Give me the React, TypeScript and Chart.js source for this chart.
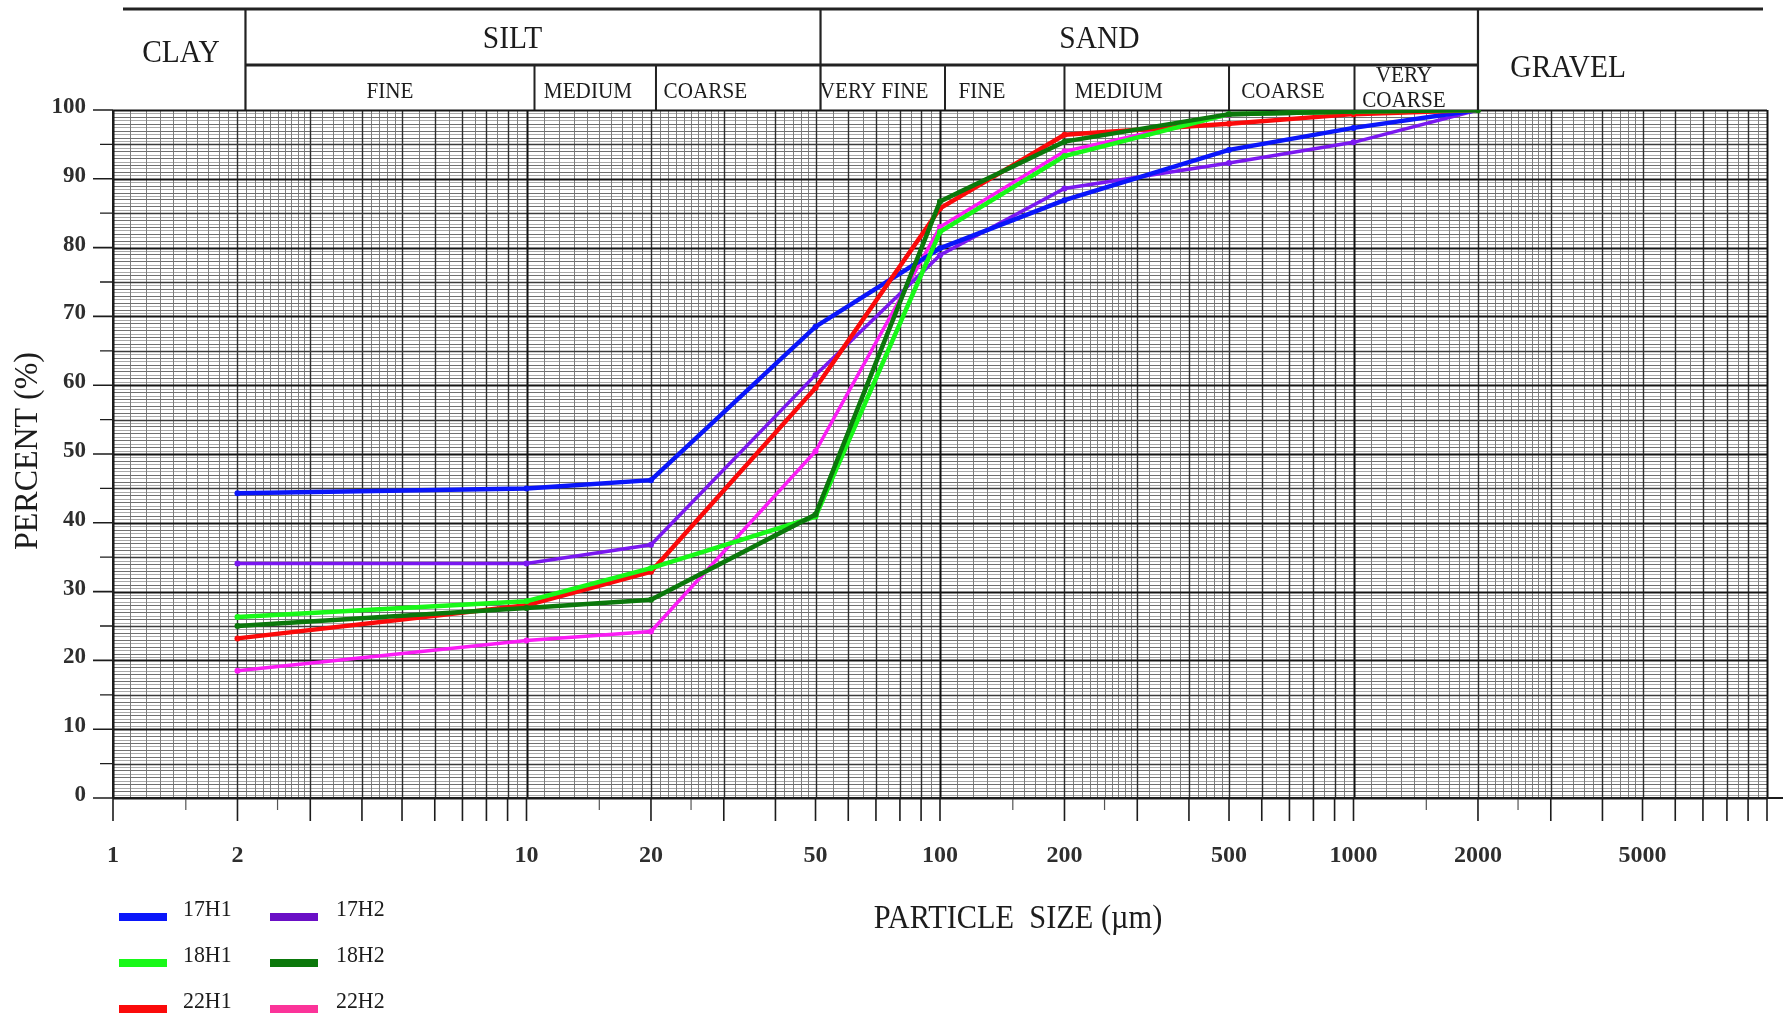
import React, { useEffect, useRef } from 'react';
import { Chart, registerables } from 'chart.js';

Chart.register(...registerables);

// Particle size (µm) at which each cumulative percentage was measured
const particleSizes = [2, 10, 20, 50, 100, 200, 500, 1000, 2000];

const seriesNames = ['17H1', '17H2', '18H1', '18H2', '22H1', '22H2'];

// Cumulative percent finer than each particle size
const values17H1 = [44.3, 45.0, 46.2, 68.5, 79.9, 86.9, 94.2, 97.4, 100];
const values17H2 = [34.1, 34.1, 36.8, 61.5, 78.9, 88.6, 92.3, 95.3, 100];
const values18H1 = [26.3, 28.6, 33.4, 40.9, 82.3, 93.3, 99.4, 99.8, 100];
const values18H2 = [25.0, 27.6, 28.8, 41.2, 86.7, 95.4, 99.4, 99.8, 100];
const values22H1 = [23.2, 28.0, 32.9, 59.6, 85.7, 96.4, 98.0, 99.4, 100];
const values22H2 = [18.5, 22.9, 24.2, 50.4, 83.0, 94.0, 99.3, 99.7, 100];

const seriesValues = [values17H1, values17H2, values18H1, values18H2, values22H1, values22H2];

const xTickValues = [1, 2, 10, 20, 50, 100, 200, 500, 1000, 2000, 5000];
const yTickValues = [0, 10, 20, 30, 40, 50, 60, 70, 80, 90, 100];

// Grain-size classes shown above the plot (boundaries in µm)
const classNames = ['CLAY', 'SILT', 'SAND', 'GRAVEL'];
const subClassNames = ['FINE', 'MEDIUM', 'COARSE', 'VERY FINE', 'FINE', 'MEDIUM', 'COARSE', 'VERY\nCOARSE'];
const subClassBounds = [2, 10, 20, 50, 100, 200, 500, 1000, 2000];

// Styles
const lineColors = ['#0a16fa', '#7a18f0', '#18f818', '#0b780b', '#fb0a0a', '#fb1cf5'];
const swatchColors = ['#0a16fa', '#6a0fc6', '#18f818', '#0b780b', '#fb0a0a', '#fb3399'];
const lineWidths = [4.5, 3.5, 4.5, 4.5, 4.5, 3.5];
const drawOrder = [3, 4, 1, 0, 2, 5];

const FONT = '"Liberation Serif", "Times New Roman", serif';
const INK = '#1c1c1c';

// Small pixel nudges of the printed header rules relative to the grid
const headerNudge: Record<number, number> = { 2: 8, 10: 8, 20: 5, 50: 5, 100: 5, 200: 0, 500: 0, 1000: 1, 2000: 0 };
// Horizontal anchor of each class label (µm) and vertical centre (px)
const classLabelAt = [1.46, 9.25, 243, 3305];
const classLabelY = [54, 39.5, 39.5, 69];
// Horizontal anchor of sub-class labels as a fraction of their cell
const subLabelFrac = [0.5, 0.44, 0.3, 0.43, 0.31, 0.33, 0.43, 0.4];

function drawText(
  ctx: CanvasRenderingContext2D,
  text: string,
  x: number,
  y: number,
  size: number,
  opts: { align?: CanvasTextAlign; weight?: string; scaleX?: number; color?: string; rotate?: number } = {}
) {
  ctx.save();
  ctx.translate(x, y);
  if (opts.rotate) ctx.rotate(opts.rotate);
  ctx.scale(opts.scaleX ?? 1, 1);
  ctx.font = `${opts.weight ?? 'normal'} ${size}px ${FONT}`;
  ctx.textAlign = opts.align ?? 'center';
  ctx.textBaseline = 'middle';
  ctx.fillStyle = opts.color ?? INK;
  ctx.fillText(text, 0, 0);
  ctx.restore();
}

function strokeLines(ctx: CanvasRenderingContext2D, segs: number[][], color: string, width: number) {
  ctx.beginPath();
  for (const [x1, y1, x2, y2] of segs) {
    ctx.moveTo(x1, y1);
    ctx.lineTo(x2, y2);
  }
  ctx.strokeStyle = color;
  ctx.lineWidth = width;
  ctx.stroke();
}

const snap = (v: number) => Math.round(v) + 0.5;

// Semi-log graph paper under the curves
const paperPlugin = {
  id: 'graphPaper',
  beforeDatasetsDraw(chart: any) {
    const { ctx, chartArea: a, scales } = chart;
    const xs = scales.x;
    const ys = scales.y;
    ctx.save();

    const hFine: number[][] = [];
    const hMinor: number[][] = [];
    const hMid: number[][] = [];
    const hMajor: number[][] = [];
    for (let i = 0; i <= 200; i++) {
      const py = snap(ys.getPixelForValue(i / 2));
      const seg = [a.left, py, a.right, py];
      if (i % 20 === 0) hMajor.push(seg);
      else if (i % 10 === 0) hMid.push(seg);
      else if (i % 2 === 0) hMinor.push(seg);
      else hFine.push(seg);
    }

    const vMinor: number[][] = [];
    const vMajor: number[][] = [];
    const vDecade: number[][] = [];
    const decades = [1, 10, 100, 1000];
    for (const d of decades) {
      const minorMantissas: number[] = [];
      for (let i = 11; i < 30; i++) if (i % 10 !== 0) minorMantissas.push(i / 10);
      for (let i = 16; i < 25; i++) if (i % 5 !== 0) minorMantissas.push(i / 5);
      for (let i = 11; i < 20; i += 2) minorMantissas.push(i / 2);
      for (const m of minorMantissas) {
        const px = snap(xs.getPixelForValue(m * d));
        vMinor.push([px, a.top, px, a.bottom]);
      }
      for (let k = 1; k <= 9; k++) {
        const px = snap(xs.getPixelForValue(k * d));
        (k === 1 ? vDecade : vMajor).push([px, a.top, px, a.bottom]);
      }
    }
    const pxEnd = snap(xs.getPixelForValue(10000));
    vDecade.push([pxEnd, a.top, pxEnd, a.bottom]);

    strokeLines(ctx, hFine, '#a9a9a9', 1);
    strokeLines(ctx, vMinor, '#7e7e7e', 1);
    strokeLines(ctx, hMinor, '#707070', 1);
    strokeLines(ctx, vMajor, '#2e2e2e', 1.4);
    strokeLines(ctx, hMid, '#3c3c3c', 1.3);
    strokeLines(ctx, hMajor, '#161616', 1.8);
    strokeLines(ctx, vDecade, '#111111', 2);
    ctx.restore();
  },
};

// Axis ticks, titles, class header and legend
const framePlugin = {
  id: 'frame',
  afterDraw(chart: any) {
    const { ctx, chartArea: a, scales } = chart;
    const xs = scales.x;
    const ys = scales.y;
    ctx.save();

    // y ticks
    const yLong: number[][] = [];
    const yShort: number[][] = [];
    for (let v = 0; v <= 100; v += 5) {
      const py = ys.getPixelForValue(v);
      if (v % 10 === 0) yLong.push([a.left - 20, py, a.left, py]);
      else yShort.push([a.left - 13, py, a.left, py]);
    }
    strokeLines(ctx, yLong, INK, 1.6);
    strokeLines(ctx, yShort, INK, 1.3);

    // x ticks
    const xLong: number[][] = [];
    const xShort: number[][] = [];
    for (const d of [1, 10, 100, 1000]) {
      for (let k = 1; k <= 9; k++) {
        const px = xs.getPixelForValue(k * d);
        xLong.push([px, a.bottom, px, a.bottom + 23]);
      }
      for (const m of [1.5, 2.5]) {
        const px = xs.getPixelForValue(m * d);
        xShort.push([px, a.bottom, px, a.bottom + 12]);
      }
    }
    const pxEnd = xs.getPixelForValue(10000);
    xLong.push([pxEnd, a.bottom, pxEnd, a.bottom + 23]);
    strokeLines(ctx, xLong, INK, 1.6);
    strokeLines(ctx, xShort, '#555', 1.2);

    // axis lines
    strokeLines(ctx, [[a.left, a.bottom, chart.width, a.bottom]], INK, 2);
    strokeLines(ctx, [[a.left, a.top, a.left, a.bottom]], INK, 2);

    // axis titles
    drawText(ctx, 'PARTICLE  SIZE (µm)', 1018, 919, 33, { scaleX: 0.92 });
    drawText(ctx, 'PERCENT (%)', 28, (a.top + a.bottom) / 2 - 3, 34, { scaleX: 0.94, rotate: -Math.PI / 2 });

    // class header
    const bx = (v: number) => xs.getPixelForValue(v) + (headerNudge[v] ?? 0);
    const topY = 9;
    const midY = 65;
    strokeLines(ctx, [[123, topY, 1763, topY]], '#222', 3);
    strokeLines(ctx, [[bx(2), midY, bx(2000), midY]], '#222', 3);
    const fullRules = [2, 50, 2000].map((v) => [bx(v), topY, bx(v), a.top]);
    strokeLines(ctx, fullRules, '#222', 2.2);
    const subRules = [10, 20, 100, 200, 500, 1000].map((v) => [bx(v), midY, bx(v), a.top]);
    strokeLines(ctx, subRules, '#222', 2);

    classNames.forEach((name, i) => {
      drawText(ctx, name, xs.getPixelForValue(classLabelAt[i]), classLabelY[i], 31, { scaleX: 0.95 });
    });

    subClassNames.forEach((name, i) => {
      const left = bx(subClassBounds[i]);
      const right = bx(subClassBounds[i + 1]);
      const cx = left + (right - left) * subLabelFrac[i];
      const lines = name.split('\n');
      if (lines.length === 1) {
        drawText(ctx, name, cx, 91.5, 23, { scaleX: 0.92 });
      } else {
        drawText(ctx, lines[0], cx, 76, 23, { scaleX: 0.92 });
        drawText(ctx, lines[1], cx, 101, 23, { scaleX: 0.92 });
      }
    });

    // legend: two columns, three rows
    const colSwatchX = [119, 270];
    const colTextX = [183, 336];
    const rowY = [917, 963, 1009];
    chart.data.datasets.forEach((ds: any, i: number) => {
      const col = i % 2;
      const row = Math.floor(i / 2);
      ctx.fillStyle = swatchColors[i];
      ctx.fillRect(colSwatchX[col], rowY[row] - 4, 48, 8);
      drawText(ctx, ds.label, colTextX[col], rowY[row] - 7, 23, { align: 'left', scaleX: 0.95 });
    });

    ctx.restore();
  },
};

export default function App() {
  const canvasRef = useRef<HTMLCanvasElement | null>(null);

  useEffect(() => {
    const canvas = canvasRef.current;
    if (!canvas) return;

    const datasets = seriesNames.map((name, i) => ({
      label: name,
      data: particleSizes.map((size, j) => ({ x: size, y: seriesValues[i][j] })),
      borderColor: lineColors[i],
      backgroundColor: lineColors[i],
      pointBackgroundColor: lineColors[i],
      pointBorderColor: lineColors[i],
      borderWidth: lineWidths[i],
      pointRadius: 3,
      pointBorderWidth: 0,
      tension: 0,
      fill: false,
      order: drawOrder[i],
    }));

    const tickFont = { family: FONT, size: 24, weight: 'bold' as const };

    const chart = new Chart(canvas, {
      type: 'line',
      data: { datasets },
      options: {
        animation: false,
        responsive: false,
        devicePixelRatio: 1,
        layout: { padding: { top: 110, left: 0, right: 16, bottom: 0 } },
        plugins: {
          legend: { display: false },
          tooltip: { enabled: false },
        },
        scales: {
          x: {
            type: 'logarithmic',
            position: 'bottom',
            min: 1,
            max: 10000,
            afterBuildTicks: (scale: any) => {
              scale.ticks = xTickValues.map((v) => ({ value: v }));
            },
            afterFit: (scale: any) => {
              scale.height = 223;
            },
            grid: { display: false, drawTicks: false },
            border: { display: false },
            ticks: {
              autoSkip: false,
              maxRotation: 0,
              minRotation: 0,
              padding: 43,
              color: '#2e2e2e',
              font: tickFont,
              callback: (v: any) => String(v),
            },
          },
          y: {
            type: 'linear',
            min: 0,
            max: 100,
            afterBuildTicks: (scale: any) => {
              scale.ticks = yTickValues.map((v) => ({ value: v }));
            },
            afterFit: (scale: any) => {
              scale.width = 113;
            },
            grid: { display: false, drawTicks: false },
            border: { display: false },
            ticks: {
              padding: 27,
              labelOffset: -3,
              color: '#2e2e2e',
              font: { family: FONT, size: 23, weight: 'bold' as const },
              callback: (v: any) => String(v),
            },
          },
        },
      },
      plugins: [paperPlugin, framePlugin],
    });

    return () => chart.destroy();
  }, []);

  return (
    <div style={{ position: 'absolute', left: 0, top: 0, width: 1783, height: 1021, background: '#ffffff' }}>
      <canvas ref={canvasRef} width={1783} height={1021} style={{ display: 'block' }} />
    </div>
  );
}
